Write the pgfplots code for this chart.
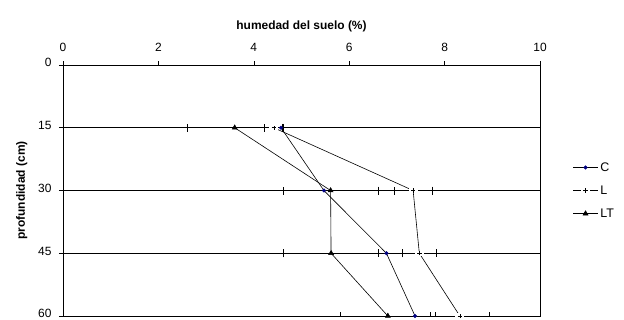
\documentclass[border=0pt]{standalone}
\usepackage{pgfplots}
\pgfplotsset{compat=1.18}
\usepackage{fontspec}
\setmainfont{Liberation Sans}

\definecolor{navydot}{RGB}{0,0,128}

% plus mark set on a small white patch, so the line breaks around it
\pgfdeclareplotmark{wplus}{%
  \pgfpathrectangle{\pgfqpoint{-2\pgfplotmarksize}{-1.2\pgfplotmarksize}}%
                   {\pgfqpoint{4\pgfplotmarksize}{2.4\pgfplotmarksize}}%
  \pgfsetfillcolor{white}\pgfusepathqfill
  \pgfpathmoveto{\pgfqpoint{-\pgfplotmarksize}{0pt}}%
  \pgfpathlineto{\pgfqpoint{\pgfplotmarksize}{0pt}}%
  \pgfpathmoveto{\pgfqpoint{0pt}{-\pgfplotmarksize}}%
  \pgfpathlineto{\pgfqpoint{0pt}{\pgfplotmarksize}}%
  \pgfusepathqstroke}

\begin{document}
\begin{tikzpicture}
\useasboundingbox (-63bp,-4bp) rectangle (561bp,316bp);
\begin{axis}[
  scale only axis,
  width=477bp, height=251bp,
  xmin=0, xmax=10, ymin=0, ymax=60,
  y dir=reverse,
  xtick={0,2,...,10}, ytick={0,15,30,45,60},
  xticklabel pos=upper, xtick pos=upper, ytick pos=left,
  tick align=outside, major tick length=4bp,
  tick style={black, line width=0.6bp},
  axis line style={black, line width=0.6bp},
  ymajorgrids, grid style={black, line width=0.6bp},
  xlabel={\textbf{humedad del suelo (\%)}},
  ylabel={\textbf{profundidad (cm)}},
  label style={font=\fontsize{12}{14}\selectfont},
  xlabel style={yshift=4bp},
  ylabel style={yshift=4bp},
  ticklabel style={font=\fontsize{12}{14}\selectfont},
  xticklabel style={yshift=6bp},
  yticklabel style={xshift=-4bp, yshift=2.2bp, inner ysep=0pt},
  /pgf/number format/assume math mode=true,
  legend style={draw=none, fill=none, at={(1.062,0.5)}, anchor=west,
    font=\fontsize{12.5}{14}\selectfont, row sep=9bp},
  legend cell align=left,
  legend image code/.code={%
    \draw[mark repeat=2,mark phase=2,#1]
      plot coordinates {(0bp,0bp) (12.5bp,0bp) (25bp,0bp)};},
  every axis plot/.append style={line width=0.6bp},
  error bars/error bar style={line width=0.6bp, black},
  error bars/error mark options={rotate=90, black, mark size=4bp, line width=0.6bp},
]
% C
\addplot[black, mark=*, mark size=1.7bp, mark options={fill=navydot, draw=navydot}]
  coordinates {(4.57,15) (5.47,30) (6.78,45) (7.38,60)};
\addlegendentry{C}
% L
\addplot[black, mark=wplus, mark size=2.2bp,
  error bars/.cd, x dir=both, x explicit]
  coordinates {(4.42,15) +- (0.20,0) (7.34,30) +- (0.40,0)
               (7.47,45) +- (0.35,0) (8.32,60) +- (0.62,0)};
\addlegendentry{L}
% LT
\addplot[black, mark=triangle*, mark size=2.8bp,
  error bars/.cd, x dir=both, x explicit]
  coordinates {(3.60,15) +- (1.0,0) (5.61,30) +- (1.0,0)
               (5.62,45) +- (1.0,0) (6.81,60) +- (1.0,0)};
\addlegendentry{LT}
\end{axis}
\end{tikzpicture}
\end{document}
